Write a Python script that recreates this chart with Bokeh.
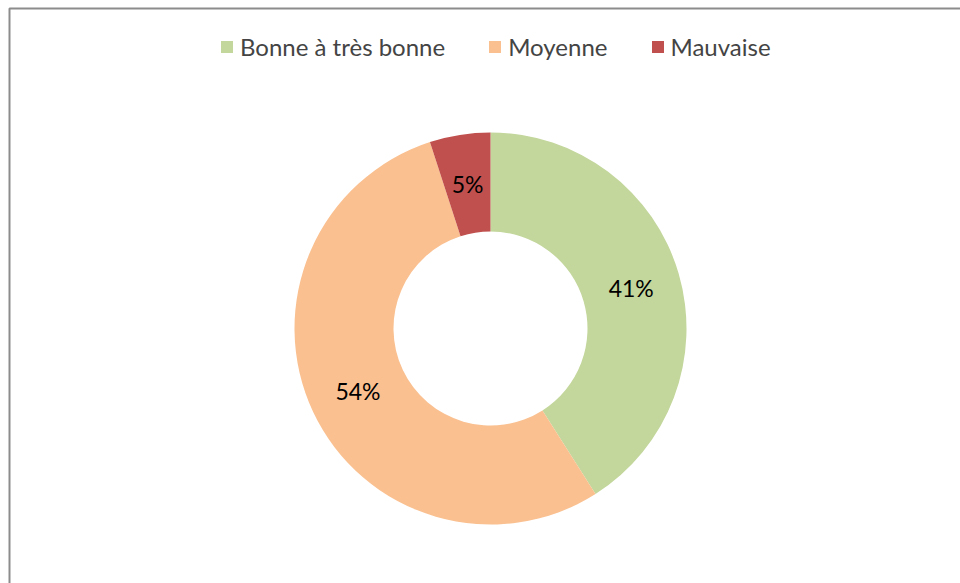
import math
from bokeh.plotting import figure
from bokeh.models import ColumnDataSource, Range1d, Legend, LegendItem, BoxAnnotation
from bokeh.core.properties import value
from bokeh.embed import file_html
from bokeh.resources import INLINE

categories = ["Bonne à très bonne", "Moyenne", "Mauvaise"]
shares = [41, 54, 5]
labels = ["41%", "54%", "5%"]
colors = ["#C3D69B", "#FAC090", "#C0504D"]

W, H = 960, 583
CX, CY = 490, 255
R_OUT, R_IN = 196, 97
FONT = "Lato"

total = sum(shares)
starts, ends, lx, ly = [], [], [], []
cum = 0.0
for v in shares:
    a0 = math.pi / 2 - cum / total * 2 * math.pi
    cum += v
    a1 = math.pi / 2 - cum / total * 2 * math.pi
    starts.append(a0)
    ends.append(a1)
    mid = (a0 + a1) / 2
    rm = (R_OUT + R_IN) / 2
    lx.append(CX + rm * math.cos(mid))
    ly.append(CY + rm * math.sin(mid))

src = ColumnDataSource(dict(cat=categories, start=starts, end=ends, color=colors,
                            x=[CX] * 3, y=[CY] * 3, lx=lx, ly=ly, label=labels))

p = figure(width=W, height=H, output_backend="svg", toolbar_location=None,
           x_range=Range1d(0, W), y_range=Range1d(0, H), min_border=0,
           background_fill_color="white", border_fill_color="white")
p.axis.visible = False
p.grid.visible = False
p.outline_line_color = None

r = p.annular_wedge(x="x", y="y", inner_radius=R_IN, outer_radius=R_OUT,
                    start_angle="start", end_angle="end", direction="clock",
                    fill_color="color", line_color=None, source=src)

p.text(x="lx", y="ly", text="label", source=src, text_align="center",
       text_baseline="middle", text_font=value(FONT), text_font_size="23px",
       text_color="black")

# chart-area frame: only its left and top edges are inside the window
p.add_layout(BoxAnnotation(left=9, right=W + 20, top=H - 8, bottom=-20,
                           fill_alpha=0, line_color="#8C8C8C", line_alpha=1.0,
                           line_width=2))

items = [LegendItem(label=c, renderers=[r], index=i) for i, c in enumerate(categories)]
legend = Legend(items=items, orientation="horizontal", location=(219, 522),
                glyph_width=15, glyph_height=15, label_standoff=6, spacing=42,
                padding=0, margin=0, border_line_color=None, background_fill_alpha=0,
                label_text_font=FONT, label_text_font_size="24px")
p.add_layout(legend)

open("out.html", "w").write(file_html(p, INLINE))
